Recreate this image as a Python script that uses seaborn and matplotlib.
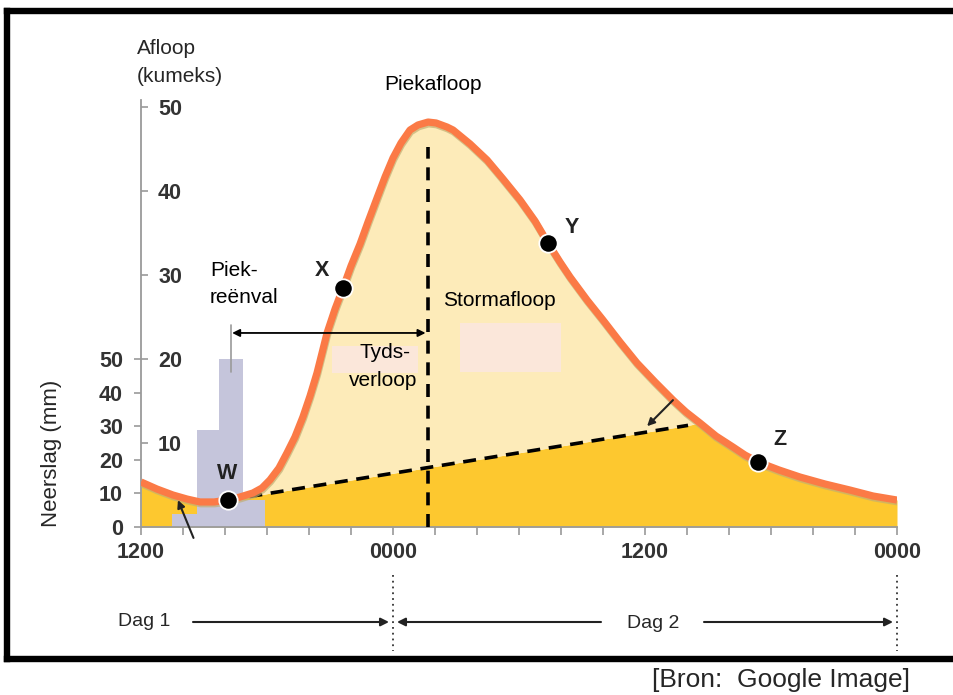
import numpy as np
import matplotlib
matplotlib.use("Agg")
import matplotlib.pyplot as plt
import matplotlib.patheffects as pe
from matplotlib.patches import Rectangle, FancyArrowPatch
from matplotlib.lines import Line2D
import seaborn as sns

# ---------------- data ----------------
# time in hours after 1200 on day 1
hours = [0.00, 0.76, 1.52, 2.19, 2.81, 3.48, 4.14, 4.71, 5.33, 5.76, 6.14, 6.57,
         6.95, 7.33, 7.71, 8.05, 8.38, 8.62, 8.86, 9.24, 9.62, 10.00, 10.43,
         10.81, 11.24, 11.62, 12.00, 12.38, 12.81, 13.19, 13.67, 14.05, 14.57,
         14.86, 15.67, 16.48, 17.24, 18.05, 18.76, 19.38, 19.95, 20.43, 21.24,
         22.00, 22.81, 23.62, 24.48, 25.33, 25.95, 26.62, 27.38, 28.19, 28.76,
         29.38, 30.38, 31.38, 32.57, 33.76, 34.86, 36.00]
# discharge (kumeks)
discharge = [5.36, 4.52, 3.81, 3.33, 2.98, 2.98, 3.21, 3.57, 4.05, 4.64, 5.60, 7.02,
             8.81, 10.71, 13.10, 15.60, 18.33, 20.71, 23.10, 25.95, 28.45, 31.07,
             33.69, 36.31, 39.17, 41.67, 43.93, 45.71, 47.26, 47.86, 48.21, 48.10,
             47.62, 47.26, 45.60, 43.69, 41.43, 38.93, 36.43, 33.81, 31.55, 29.76,
             27.02, 24.64, 22.02, 19.52, 17.26, 15.12, 13.69, 12.38, 10.83, 9.52,
             8.57, 7.74, 6.79, 5.95, 5.12, 4.40, 3.69, 3.21]

# rainfall histogram (mm), bin edges in hours
rain_edges = [1.5, 2.65, 3.7, 4.85, 5.9]
rain_mm = [4, 29, 50, 8]

# base flow separation line (W to end of quickflow)
baseflow_h = [4.14, 26.05]
baseflow_q = [3.21, 12.1]

# labelled points
point_names = ["W", "X", "Y", "Z"]
point_h = [4.14, 9.62, 19.38, 29.38]
point_q = [3.21, 28.45, 33.81, 7.74]

peak_h = 13.67
peak_rain_h = 4.29

xtick_hours = list(range(0, 37, 2))
xtick_named = {0: "1200", 12: "0000", 24: "1200", 36: "0000"}
afloop_ticks = [10, 20, 30, 40, 50]
neerslag_ticks = [0, 10, 20, 30, 40, 50]

# ---------------- style ----------------
sns.set_theme(style="white")
plt.rcParams["font.family"] = ["Liberation Sans", "DejaVu Sans"]

ORANGE = "#fb7a46"
DARK_Y = "#fdc82f"
LIGHT_Y = "#fdebb9"
BAR_C = "#c5c5db"
PINK = "#fbe7da"
GREY = "#9a9a9a"
TXT = "#333333"
FS = 15
TICK_FS = 15.5

MM2AF = 0.4          # 50 mm of rain sits level with 20 kumeks
W_PX, H_PX = 954, 695
X0, X1, Y0 = 141, 897, 527
PPU = 8.4
YMAX = 54.4

fig = plt.figure(figsize=(W_PX / 100, H_PX / 100), dpi=100)
fig.patch.set_facecolor("white")
pos = [X0 / W_PX, 1 - Y0 / H_PX, (X1 - X0) / W_PX, YMAX * PPU / H_PX]
ax = fig.add_axes(pos)
ax.set_facecolor("none")


def fx(px):
    return px / W_PX


def fy(py):
    return 1 - py / H_PX


# ---- fills ----
h_arr = np.asarray(hours, float)
q_arr = np.asarray(discharge, float)
hd = np.union1d(h_arr, baseflow_h)
qd = np.interp(hd, h_arr, q_arr)
line_d = np.interp(hd, baseflow_h, baseflow_q)
in_event = (hd >= baseflow_h[0]) & (hd <= baseflow_h[1])
base = np.where(in_event, np.minimum(qd, line_d), qd)
ax.fill_between(hd, 0, base, color=DARK_Y, lw=0, zorder=1)
ax.fill_between(hd, base, qd, color=LIGHT_Y, lw=0, zorder=1)

# ---- rainfall bars ----
edges = np.asarray(rain_edges)
centers = (edges[:-1] + edges[1:]) / 2
sns.histplot(x=centers, weights=np.asarray(rain_mm) * MM2AF, bins=rain_edges,
             ax=ax, color=BAR_C, alpha=1, linewidth=0, element="bars")
for p in ax.patches:
    p.set_zorder(2)
ax.set_ylabel("")
ax.set_xlabel("")

# pale label boxes
ax.add_patch(Rectangle((9.1, 18.3), 4.1, 3.2, color=PINK, lw=0, zorder=2.5))
ax.add_patch(Rectangle((15.19, 18.45), 4.8, 5.85, color=PINK, lw=0, zorder=2.5))

# ---- dashed lines ----
sns.lineplot(x=baseflow_h, y=baseflow_q, ax=ax, color="black", lw=2.6,
             zorder=3)
ax.lines[-1].set_dashes((3.6, 2.4))
ax.plot([peak_h, peak_h], [0, 45.2], color="black", lw=2.6,
        dashes=(3.6, 2.4), zorder=3)

# ---- hydrograph ----
sns.lineplot(x=hours, y=discharge, ax=ax, sort=False, color=ORANGE, lw=5.2,
             zorder=4, solid_capstyle="butt", solid_joinstyle="round")
ax.lines[-1].set_path_effects([
    pe.SimpleLineShadow(offset=(0.4, -1.3), shadow_color="#c2ae72", alpha=0.7),
    pe.Normal()])

sns.scatterplot(x=point_h, y=point_q, ax=ax, s=175, color="black",
                edgecolor="white", linewidth=1.3, zorder=6)
ax.collections[-1].set_zorder(6)

lab_off = {"W": (-0.05, 3.1), "X": (-1.0, 2.1), "Y": (1.15, 1.9), "Z": (1.05, 2.7)}
for n, h, q in zip(point_names, point_h, point_q):
    dx, dy = lab_off[n]
    ax.text(h + dx, q + dy, n, fontsize=15.5, fontweight="bold", color="#222222",
            ha="center", va="center", zorder=7)

# ---- annotations inside the chart ----
ax.text(13.9, 52.7, "Piekafloop", fontsize=FS, ha="center", va="center", color="black")
ax.text(3.29, 30.5, "Piek-", fontsize=FS, ha="left", va="center", color="black")
ax.text(3.29, 27.3, "reënval", fontsize=FS, ha="left", va="center", color="black")
ax.text(11.6, 20.8, "Tyds-", fontsize=FS, ha="center", va="center", color="black", zorder=5)
ax.text(11.55, 17.5, "verloop", fontsize=FS, ha="center", va="center", color="black", zorder=5)
ax.text(14.38, 27.0, "Stormafloop", fontsize=FS, ha="left", va="center", color="black", zorder=5)

ax.plot([peak_rain_h, peak_rain_h], [18.5, 24.0], color=GREY, lw=1.2, zorder=3)
ax.annotate("", xy=(peak_rain_h + 0.05, 23.1), xytext=(13.55, 23.1),
            arrowprops=dict(arrowstyle="<|-|>", color="black", lw=1.3,
                            mutation_scale=11, shrinkA=0, shrinkB=0), zorder=5)
ax.annotate("", xy=(1.76, 3.2), xytext=(2.5, -1.3),
            arrowprops=dict(arrowstyle="-|>", color="#222222", lw=1.5,
                            mutation_scale=11, shrinkA=0, shrinkB=0),
            annotation_clip=False, zorder=5)
ax.annotate("", xy=(24.1, 12.0), xytext=(25.33, 15.1),
            arrowprops=dict(arrowstyle="-|>", color="#222222", lw=1.5,
                            mutation_scale=11, shrinkA=0, shrinkB=0), zorder=5)

# ---- axes ----
ax.set_xlim(0, 36)
ax.set_ylim(0, YMAX)
for s in ["top", "right"]:
    ax.spines[s].set_visible(False)
for s in ["left", "bottom"]:
    ax.spines[s].set_color(GREY)
    ax.spines[s].set_linewidth(1.3)
ax.spines["left"].set_bounds(0, 50.8)

ax.set_xticks(xtick_hours, [xtick_named.get(t, "") for t in xtick_hours],
              fontweight="bold", fontsize=TICK_FS, color=TXT)
ax.tick_params(axis="x", direction="out", length=6, width=1.2, color=GREY, pad=5,
               bottom=True)
ax.set_yticks(afloop_ticks, [str(t) for t in afloop_ticks], fontweight="bold",
              fontsize=TICK_FS, color=TXT)
ax.tick_params(axis="y", direction="in", length=5, width=1.2, color=GREY, pad=-29.5,
               left=True)

ax2 = ax.twinx()
ax2.set_position(pos)
ax2.set_ylim(0, YMAX / MM2AF)
for s in ax2.spines.values():
    s.set_visible(False)
ax2.yaxis.tick_left()
ax2.set_yticks(neerslag_ticks, [str(t) for t in neerslag_ticks], fontweight="bold",
               fontsize=TICK_FS, color=TXT)
ax2.tick_params(axis="y", direction="out", length=5, width=1.2, color=GREY, pad=8,
                left=True, right=False)
ax2.grid(False)
ax.grid(False)

# ---- texts outside the plot ----
fig.text(fx(137), fy(48), "Afloop", fontsize=FS, ha="left", va="center")
fig.text(fx(137), fy(77), "(kumeks)", fontsize=FS, ha="left", va="center")
fig.text(fx(52), fy(453), "Neerslag (mm)", fontsize=16, rotation=90,
         ha="center", va="center")

# day markers
for xp in (393, 897):
    fig.add_artist(Line2D([fx(xp), fx(xp)], [fy(575), fy(651)], color="#333333",
                          lw=1.3, ls=(0, (1, 2.2))))
fig.text(fx(144), fy(621), "Dag 1", fontsize=14, ha="center", va="center")
fig.text(fx(653), fy(623), "Dag 2", fontsize=14, ha="center", va="center")
arrow_kw = dict(arrowstyle="-|>", color="#222222", lw=1.5, mutation_scale=12,
                shrinkA=0, shrinkB=0)
for a, b in [((193, 622), (389, 622)), ((601, 622), (397, 622)),
             ((704, 622), (893, 622))]:
    fig.add_artist(FancyArrowPatch(
        (fx(a[0]), fy(a[1])), (fx(b[0]), fy(b[1])), transform=fig.transFigure,
        **arrow_kw))

# frame
for xs, ys in [((7, 7), (11, 659)), ((7, 960), (11, 11)), ((7, 960), (659, 659))]:
    fig.add_artist(Line2D([fx(xs[0]), fx(xs[1])], [fy(ys[0]), fy(ys[1])],
                          color="black", lw=4.6, solid_capstyle="projecting"))

fig.text(fx(781), fy(680), "[Bron:  Google Image]", fontsize=19, ha="center",
         va="center")

fig.savefig("out.png", dpi=100)
